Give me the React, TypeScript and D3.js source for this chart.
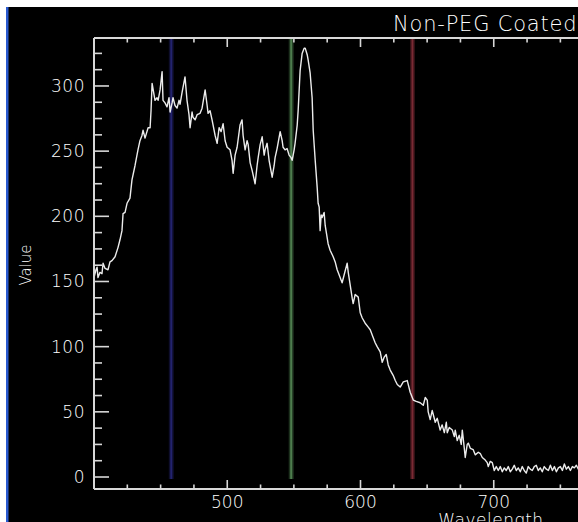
import React from "react";
import * as d3 from "d3";

const wavelength = [
  400.0, 401.5, 402.3, 403.0, 404.5, 406.0, 406.8, 408.3, 410.5, 412.0, 413.5, 415.8, 418.0, 419.5, 421.0, 421.8,
  423.3, 424.8, 427.0, 428.5, 430.8, 433.0, 434.5, 436.0, 436.8, 438.3, 440.6, 442.1, 442.8, 443.6, 445.1, 445.8,
  447.3, 448.1, 449.6, 451.1, 451.8, 453.3, 454.8, 456.3, 457.1, 458.6, 459.3, 460.8, 462.3, 463.8, 464.6, 466.1,
  468.3, 469.8, 471.3, 472.1, 473.6, 474.3, 475.9, 477.4, 479.6, 481.1, 483.4, 484.9, 485.6, 487.1, 488.6, 490.9,
  492.4, 493.9, 495.4, 496.9, 498.4, 499.9, 502.1, 503.6, 504.4, 505.9, 507.4, 509.6, 511.1, 511.9, 513.4, 514.9,
  515.7, 517.2, 518.7, 520.9, 522.4, 523.2, 524.7, 526.2, 527.7, 528.4, 529.9, 531.4, 533.7, 535.2, 535.9, 537.4,
  539.7, 541.2, 541.9, 543.4, 544.9, 546.4, 547.9, 548.7, 550.2, 550.9, 552.5, 553.2, 554.7, 556.2, 557.7, 558.5,
  560.0, 560.7, 562.2, 563.7, 564.5, 566.0, 567.5, 568.2, 569.0, 569.7, 570.5, 571.2, 572.7, 573.5, 575.7, 577.2,
  579.5, 581.0, 582.5, 584.0, 586.2, 587.7, 590.0, 590.8, 592.3, 593.8, 594.5, 596.0, 598.3, 599.8, 601.3, 603.5,
  605.8, 607.3, 609.5, 611.0, 612.5, 614.8, 616.3, 617.8, 619.3, 620.8, 622.3, 624.5, 626.1, 627.6, 629.8, 632.1,
  635.1, 637.3, 639.6, 641.8, 644.8, 647.1, 648.6, 650.1, 650.8, 652.3, 653.8, 654.6, 656.1, 657.6, 659.8, 661.3,
  662.9, 664.4, 665.1, 666.6, 668.9, 670.4, 671.1, 672.6, 674.1, 675.6, 676.4, 677.9, 678.6, 680.1, 680.9, 682.4,
  684.6, 686.1, 688.4, 689.9, 691.4, 693.6, 695.1, 695.9, 697.4, 698.9, 700.4, 701.9, 703.4, 704.9, 706.4, 707.9,
  709.4, 710.9, 712.4, 713.9, 715.4, 716.9, 718.4, 719.9, 721.4, 722.9, 724.4, 725.9, 727.4, 728.9, 730.4, 731.9,
  733.4, 734.9, 736.4, 737.9, 739.5, 741.0, 742.5, 744.0, 745.5, 747.0, 748.5, 750.0, 751.5, 753.0, 754.5, 756.0,
  757.5, 759.0, 760.5, 762.0, 763.5, 765.0,
];

const value = [
  153, 159, 161, 153, 157, 156, 164, 160, 159, 165, 166, 169, 176, 182, 189, 202,
  203, 210, 214, 228, 239, 251, 258, 262, 266, 260, 268, 268, 281, 302, 293, 289,
  291, 289, 297, 311, 289, 287, 284, 291, 280, 287, 291, 285, 283, 289, 286, 295,
  307, 289, 278, 268, 280, 276, 274, 278, 279, 283, 297, 285, 279, 281, 274, 262,
  256, 268, 265, 271, 258, 253, 251, 243, 233, 247, 253, 270, 274, 262, 251, 258,
  255, 241, 235, 225, 239, 245, 255, 261, 247, 251, 256, 243, 230, 239, 245, 252,
  265, 258, 253, 251, 252, 247, 245, 243, 251, 256, 270, 281, 312, 325, 329, 329,
  324, 320, 310, 291, 266, 243, 222, 210, 207, 189, 201, 199, 203, 193, 179, 174,
  169, 165, 159, 155, 149, 155, 164, 157, 147, 137, 133, 140, 138, 126, 122, 118,
  115, 113, 107, 103, 100, 96, 88, 92, 94, 86, 82, 78, 74, 71, 69, 73,
  74, 65, 59, 58, 57, 55, 61, 59, 50, 44, 51, 48, 42, 45, 36, 40,
  34, 42, 34, 38, 36, 31, 36, 28, 32, 25, 36, 22, 15, 25, 26, 22,
  21, 17, 19, 18, 15, 13, 11, 8, 12, 11, 5, 8, 5, 8, 4, 7,
  5, 8, 4, 6, 9, 5, 7, 4, 8, 5, 3, 8, 6, 5, 8, 9,
  5, 7, 4, 8, 6, 5, 9, 5, 8, 4, 7, 8, 5, 10, 6, 8,
  5, 8, 7, 9, 6, 8,
];

const markerWavelengths = [458, 548, 639];
const markerColors = ["#23236e", "#4d7d4d", "#7a2a34"];

const xMajorTicks = [500, 600, 700];
const yMajorTicks = [0, 50, 100, 150, 200, 250, 300];

const titleText = "Non-PEG Coated";
const xTitle = "Wavelength";
const yTitle = "Value";

export default function App() {
  const W = 578;
  const H = 522;
  const x = d3.scaleLinear().domain([400, 1000]).range([94, 893.5]);
  const y = d3.scaleLinear().domain([-9.2, 336.8]).range([489, 38]);
  const pts = wavelength.map((w, i) => [w, value[i]] as [number, number]);
  const line = d3
    .line<[number, number]>()
    .x((d) => x(d[0]))
    .y((d) => y(d[1]));

  const xMinor = d3.range(425, 800, 25).filter((v) => v % 100 !== 0);
  const yMinor = d3.range(12.5, 337, 12.5).filter((v) => v % 50 !== 0);
  const axisColor = "#d8d8d8";
  const textColor = "#ffffff";
  const font = "DejaVu Sans, sans-serif";

  return (
    <svg
      width={W}
      height={H}
      style={{ position: "absolute", left: 0, top: 0, display: "block" }}
    >
      <rect x={0} y={0} width={W} height={H} fill="#ffffff" />
      <rect x={6} y={7} width={W - 6} height={H - 7} fill="#000000" />
      <rect x={6} y={7} width={2.5} height={H - 7} fill="#2a5ad0" />
      <defs>
        <clipPath id="plotclip">
          <rect x={94} y={38} width={W} height={451} />
        </clipPath>
      </defs>
      {markerWavelengths.map((w, i) => (
        <g key={"m" + i}>
          <line x1={x(w)} x2={x(w)} y1={y(0) + 2} y2={38} stroke={markerColors[i]} strokeWidth={5} opacity={0.4} />
          <line x1={x(w)} x2={x(w)} y1={y(0) + 2} y2={38} stroke={markerColors[i]} strokeWidth={2} />
        </g>
      ))}
      <path d={line(pts) || ""} fill="none" stroke="#ececec" strokeWidth={1.4} strokeLinejoin="round" clipPath="url(#plotclip)" />
      <line x1={94} x2={W} y1={38} y2={38} stroke={axisColor} strokeWidth={2} />
      <line x1={94} x2={W} y1={489} y2={489} stroke={axisColor} strokeWidth={2} />
      <line x1={94} x2={94} y1={38} y2={489} stroke={axisColor} strokeWidth={2} />
      {xMajorTicks.map((t) => (
        <g key={"xt" + t}>
          <line x1={x(t)} x2={x(t)} y1={489} y2={480} stroke={axisColor} strokeWidth={1.6} />
          <line x1={x(t)} x2={x(t)} y1={38} y2={47} stroke={axisColor} strokeWidth={1.6} />
          <text x={x(t)} y={508} textAnchor="middle" fill={textColor} fontFamily={font} fontWeight={300} fontSize={17}>
            {t}
          </text>
        </g>
      ))}
      {xMinor.map((t) => (
        <g key={"xm" + t}>
          <line x1={x(t)} x2={x(t)} y1={489} y2={484.5} stroke={axisColor} strokeWidth={1.6} />
          <line x1={x(t)} x2={x(t)} y1={38} y2={42.5} stroke={axisColor} strokeWidth={1.6} />
        </g>
      ))}
      {yMajorTicks.map((t) => (
        <g key={"yt" + t}>
          <line x1={94} x2={109} y1={y(t)} y2={y(t)} stroke={axisColor} strokeWidth={1.6} />
          <text x={85} y={y(t) + 6} textAnchor="end" fill={textColor} fontFamily={font} fontWeight={300} fontSize={17} letterSpacing={0.5}>
            {t}
          </text>
        </g>
      ))}
      {yMinor.map((t) => (
        <line key={"ym" + t} x1={94} x2={102} y1={y(t)} y2={y(t)} stroke={axisColor} strokeWidth={1.6} />
      ))}
      <text x={393} y={31} textAnchor="start" fill={textColor} fontFamily={font} fontWeight={300} fontSize={21} letterSpacing={0.8}>
        {titleText}
      </text>
      <text x={491} y={526} textAnchor="middle" fill={textColor} fontFamily={font} fontWeight={300} fontSize={17} letterSpacing={0.5}>
        {xTitle}
      </text>
      <text
        transform="translate(31,265) rotate(-90)"
        textAnchor="middle"
        fill={textColor}
        fontFamily={font}
        fontWeight={300}
        fontSize={15}
      >
        {yTitle}
      </text>
    </svg>
  );
}
